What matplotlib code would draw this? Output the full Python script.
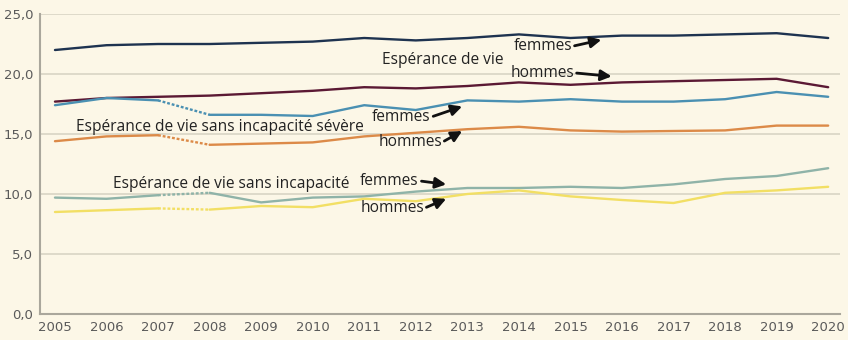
import matplotlib
matplotlib.use("Agg")
import matplotlib.pyplot as plt
import numpy as np

years = list(range(2005, 2021))

ev_femmes = [22.0, 22.4, 22.5, 22.5, 22.6, 22.7, 23.0, 22.8, 23.0, 23.3, 23.0, 23.2, 23.2, 23.3, 23.4, 23.0]
ev_hommes = [17.7, 18.0, 18.1, 18.2, 18.4, 18.6, 18.9, 18.8, 19.0, 19.3, 19.1, 19.3, 19.4, 19.5, 19.6, 18.9]
evsis_femmes = [17.4, 18.0, 17.8, 16.6, 16.6, 16.5, 17.4, 17.0, 17.8, 17.7, 17.9, 17.7, 17.7, 17.9, 18.5, 18.1]
evsis_hommes = [14.4, 14.8, 14.9, 14.1, 14.2, 14.3, 14.8, 15.1, 15.4, 15.6, 15.3, 15.2, 15.25, 15.3, 15.7, 15.7]
evsi_femmes = [9.7, 9.6, 9.9, 10.1, 9.3, 9.7, 9.8, 10.2, 10.5, 10.5, 10.6, 10.5, 10.8, 11.25, 11.5, 12.15]
evsi_hommes = [8.5, 8.65, 8.8, 8.7, 9.0, 8.9, 9.6, 9.4, 10.0, 10.3, 9.8, 9.5, 9.25, 10.1, 10.3, 10.6]

yticks = [0, 5, 10, 15, 20, 25]
ytick_labels = ["0,0", "5,0", "10,0", "15,0", "20,0", "25,0"]

bg = "#fcf7e7"
fig = plt.figure(figsize=(8.48, 3.40), dpi=100, facecolor=bg)
ax = fig.add_axes([0.0472, 0.0765, 0.9434, 0.8823], facecolor=bg)

x = np.array(years)
lw = 1.7

# series without break
for vals, col in [(ev_femmes, "#1e3350"), (ev_hommes, "#5b1934")]:
    ax.plot(x, vals, color=col, lw=lw, solid_capstyle="round")

# series with a method change between 2007 and 2008 (dotted link)
for vals, col in [(evsis_femmes, "#4a90b2"), (evsis_hommes, "#dc8a48"),
                  (evsi_femmes, "#8fb3a8"), (evsi_hommes, "#f2df64")]:
    v = np.array(vals)
    ax.plot(x[:3], v[:3], color=col, lw=lw, solid_capstyle="round")
    ax.plot(x[2:4], v[2:4], color=col, lw=lw, linestyle=(0, (1.2, 0.8)))
    ax.plot(x[3:], v[3:], color=col, lw=lw, solid_capstyle="round")

ax.set_xlim(2004.71, 2020.23)
ax.set_ylim(0, 25)
ax.set_xticks(years)
ax.set_yticks(yticks)
ax.set_yticklabels(ytick_labels)
ax.tick_params(length=0, labelsize=9.5, colors="#5a5a5a", pad=5)
ax.grid(axis="y", color="#d9d5c5", lw=1.2)
ax.set_axisbelow(True)
for s in ["top", "right"]:
    ax.spines[s].set_visible(False)
for s in ["left", "bottom"]:
    ax.spines[s].set_color("#aaa79c")
    ax.spines[s].set_linewidth(1.5)

font = "Open Sans"
fs = 11.2
tc = "#222222"
ax.text(2011.35, 21.2, "Espérance de vie", fontsize=fs, family=font, color=tc, va="center")
ax.text(2005.4, 15.6, "Espérance de vie sans incapacité sévère", fontsize=fs, family=font, color=tc, va="center")
ax.text(2006.13, 10.8, "Espérance de vie sans incapacité", fontsize=fs, family=font, color=tc, va="center")

arrow = dict(arrowstyle="-|>", color="#111111", lw=2, mutation_scale=16, shrinkA=2, shrinkB=0)
labels = [
    ("femmes", (2013.89, 22.3), (2015.6, 22.85)),
    ("hommes", (2013.83, 20.1), (2015.8, 19.8)),
    ("femmes", (2011.15, 16.4), (2012.9, 17.3)),
    ("hommes", (2011.27, 14.3), (2012.9, 15.25)),
    ("femmes", (2010.92, 11.1), (2012.59, 10.8)),
    ("hommes", (2010.92, 8.8), (2012.59, 9.6)),
]
for txt, pos, tip in labels:
    t = ax.text(pos[0], pos[1], txt, fontsize=fs, family=font, color=tc, va="center")
    fig.canvas.draw()
    bb = t.get_window_extent().transformed(ax.transData.inverted())
    ax.annotate("", xy=tip, xytext=(bb.x1, pos[1]), arrowprops=arrow)

fig.savefig("out.png", dpi=100, facecolor=bg)
